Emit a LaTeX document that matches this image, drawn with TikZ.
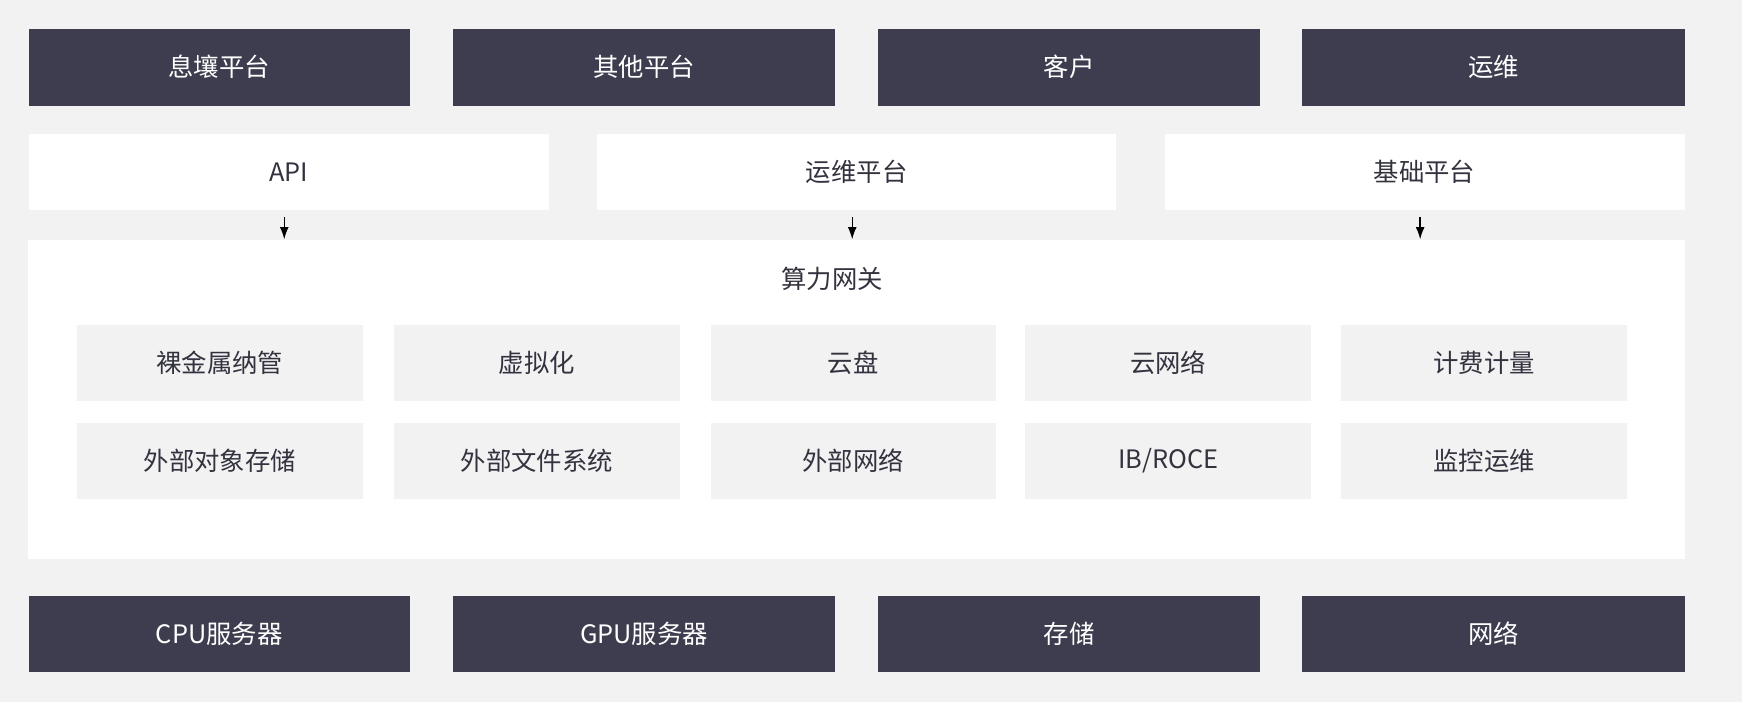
\documentclass[tikz,border=0pt]{standalone}
\usepackage{fontspec}
\setmainfont{Noto Sans CJK SC}
\definecolor{bg}{HTML}{F2F2F2}
\definecolor{dark}{HTML}{3D3D4F}
\definecolor{txt}{HTML}{333340}
\tikzset{
 box/.style={inner sep=0pt,font=\fontsize{13}{15}\selectfont},
 darkbox/.style={box,fill=dark,text=white},
 whitebox/.style={box,fill=white,text=txt},
 graybox/.style={box,fill=bg,text=txt},
 arr/.style={-{Latex[length=2.2mm,width=1.6mm]},line width=0.7pt,black}
}
\usetikzlibrary{arrows.meta}
\newcommand{\bx}[6]{\node[#1,minimum width=#4*0.02cm-#2*0.02cm,minimum height=#5*0.02cm-#3*0.02cm] (#6) at ({(#2+#4)*0.01},{-(#3+#5)*0.01})}
\begin{document}
\begin{tikzpicture}
\fill[bg] (0,0) rectangle (31.36,-12.64);
\useasboundingbox (0,0) rectangle (31.36,-12.64);
\bx{darkbox}{26}{26}{369}{95}{t1} {息壤平台};
\bx{darkbox}{408}{26}{752}{95}{t2} {其他平台};
\bx{darkbox}{791}{26}{1135}{95}{t3} {客户};
\bx{darkbox}{1173}{26}{1517}{95}{t4} {运维};
\bx{whitebox}{26}{121}{494}{189}{s1} {API};
\bx{whitebox}{538}{121}{1005}{189}{s2} {运维平台};
\bx{whitebox}{1049}{121}{1517}{189}{s3} {基础平台};
\bx{whitebox}{26}{216}{1517}{503}{gw} {};
\node[box,text=txt] (gwt) at (14.98,-5.02) {算力网关};
\bx{graybox}{69}{293}{327}{361}{a1} {裸金属纳管};
\bx{graybox}{355}{293}{612}{361}{a2} {虚拟化};
\bx{graybox}{640}{293}{897}{361}{a3} {云盘};
\bx{graybox}{923}{293}{1181}{361}{a4} {云网络};
\bx{graybox}{1208}{293}{1465}{361}{a5} {计费计量};
\bx{graybox}{69}{381}{327}{449}{b1} {外部对象存储};
\bx{graybox}{355}{381}{612}{449}{b2} {外部文件系统};
\bx{graybox}{640}{381}{897}{449}{b3} {外部网络};
\bx{graybox}{923}{381}{1181}{449}{b4} {IB/ROCE};
\bx{graybox}{1208}{381}{1465}{449}{b5} {监控运维};
\bx{darkbox}{26}{537}{369}{605}{u1} {CPU服务器};
\bx{darkbox}{408}{537}{752}{605}{u2} {GPU服务器};
\bx{darkbox}{791}{537}{1135}{605}{u3} {存储};
\bx{darkbox}{1173}{537}{1517}{605}{u4} {网络};
\draw[arr] ([xshift=-0.08cm,yshift=-0.12cm]s1.south) -- ([xshift=-0.08cm]s1.south |- gw.north);
\draw[arr] ([xshift=-0.08cm,yshift=-0.12cm]s2.south) -- ([xshift=-0.08cm]s2.south |- gw.north);
\draw[arr] ([xshift=-0.08cm,yshift=-0.12cm]s3.south) -- ([xshift=-0.08cm]s3.south |- gw.north);
\end{tikzpicture}
\end{document}
